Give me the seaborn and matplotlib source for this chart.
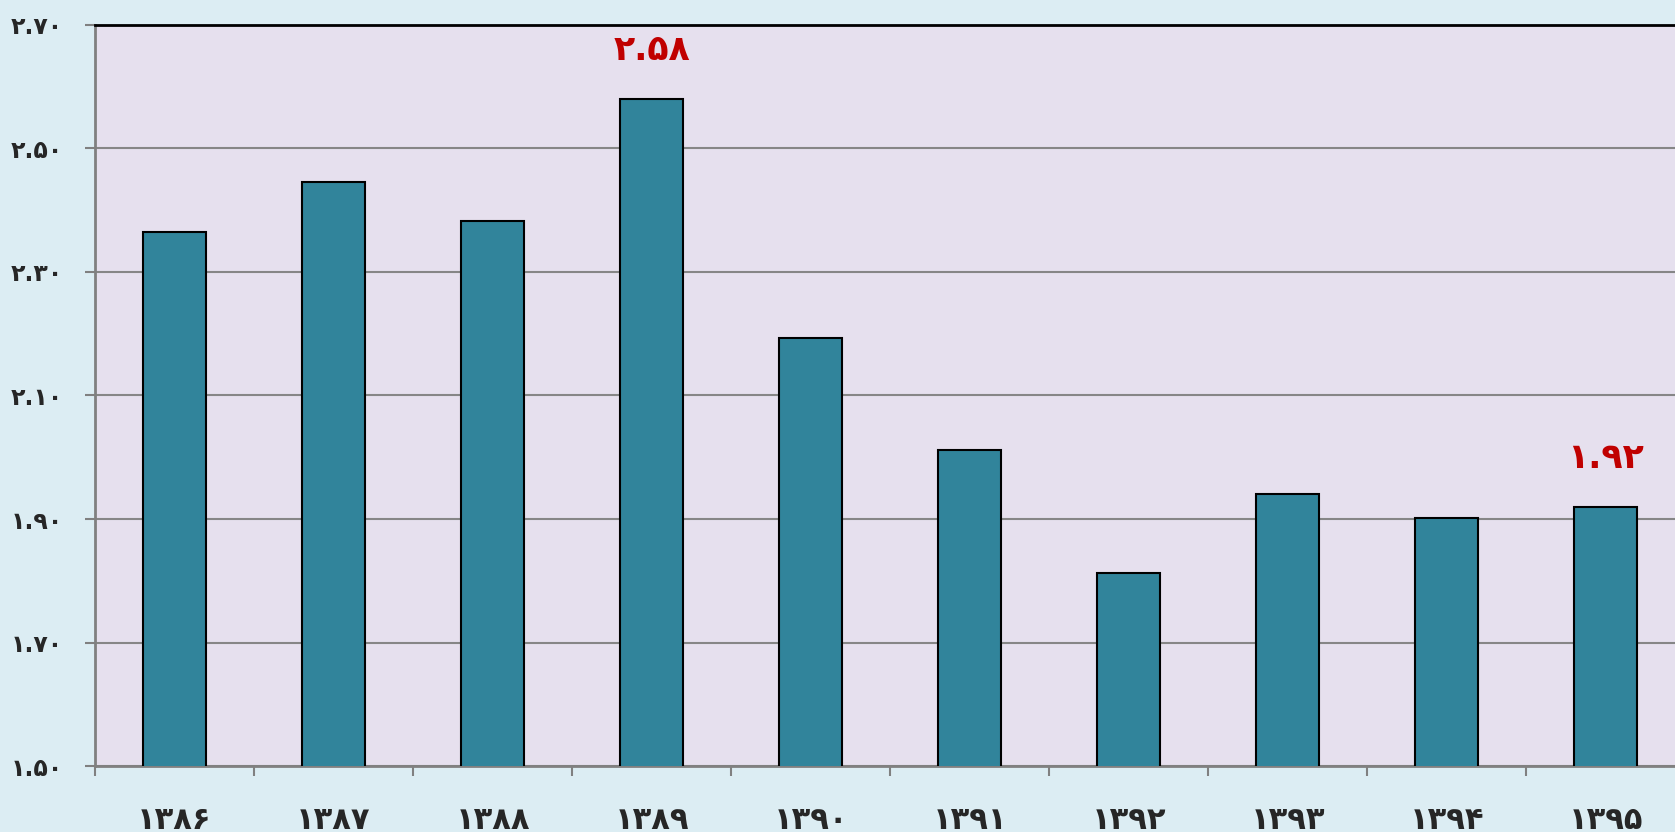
import matplotlib
matplotlib.use('Agg')
import matplotlib.pyplot as plt
import seaborn as sns
import pandas as pd

# داده‌ها
years = ['۱۳۸۶', '۱۳۸۷', '۱۳۸۸', '۱۳۸۹', '۱۳۹۰', '۱۳۹۱', '۱۳۹۲', '۱۳۹۳', '۱۳۹۴', '۱۳۹۵']
values = [2.365, 2.445, 2.383, 2.58, 2.193, 2.011, 1.813, 1.94, 1.902, 1.92]
y_ticks = [1.5, 1.7, 1.9, 2.1, 2.3, 2.5, 2.7]
y_tick_labels = ['۱.۵۰', '۱.۷۰', '۱.۹۰', '۲.۱۰', '۲.۳۰', '۲.۵۰', '۲.۷۰']
# برچسب مقادیر روی ستون‌ها
value_labels = {3: '۲.۵۸', 9: '۱.۹۲'}

sns.set_style('white')
plt.rcParams['font.family'] = ['DejaVu Sans']

df = pd.DataFrame({'year': years, 'value': values})

fig = plt.figure(figsize=(16.75, 8.32), dpi=100, facecolor='#DCEDF3')
ax = fig.add_axes([0.0567, 0.0793, 0.9493, 0.8907])
ax.set_facecolor('#E6E0EE')

sns.barplot(data=df, x='year', y='value', color='#31849B', saturation=1,
            width=0.4, edgecolor='black', linewidth=1.5, ax=ax, zorder=3)

ax.set_ylim(1.5, 2.7)
ax.set_xlim(-0.5, len(years) - 0.5)

# محور y
ax.set_yticks(y_ticks)
ax.set_yticklabels(y_tick_labels, fontsize=17, fontweight='bold')
ax.tick_params(axis='y', left=True, length=7, width=1.5, color='#808080', pad=16)
ax.yaxis.grid(True, color='#868686', linewidth=1.5, zorder=0)
ax.set_axisbelow(True)

# محور x: تیک‌ها بین ستون‌ها، برچسب‌ها در وسط
ax.set_xticks([i - 0.5 for i in range(len(years) + 1)])
ax.set_xticklabels([])
ax.set_xticks(range(len(years)), minor=True)
ax.set_xticklabels(years, minor=True, fontsize=22, fontweight='bold')
ax.tick_params(axis='x', which='major', bottom=True, length=7, width=1.5, color='#808080')
ax.tick_params(axis='x', which='minor', bottom=True, length=0, pad=29)

ax.set_xlabel('')
ax.set_ylabel('')

for side in ['left', 'bottom', 'right']:
    ax.spines[side].set_color('#808080')
    ax.spines[side].set_linewidth(2)
ax.spines['top'].set_color('black')
ax.spines['top'].set_linewidth(2)

for i, txt in value_labels.items():
    ax.annotate(txt, (i, values[i]), xytext=(0, 35), textcoords='offset points',
                ha='center', va='center', color='#C00000', fontsize=25, fontweight='bold')

fig.savefig('out.png', dpi=100, facecolor=fig.get_facecolor())
